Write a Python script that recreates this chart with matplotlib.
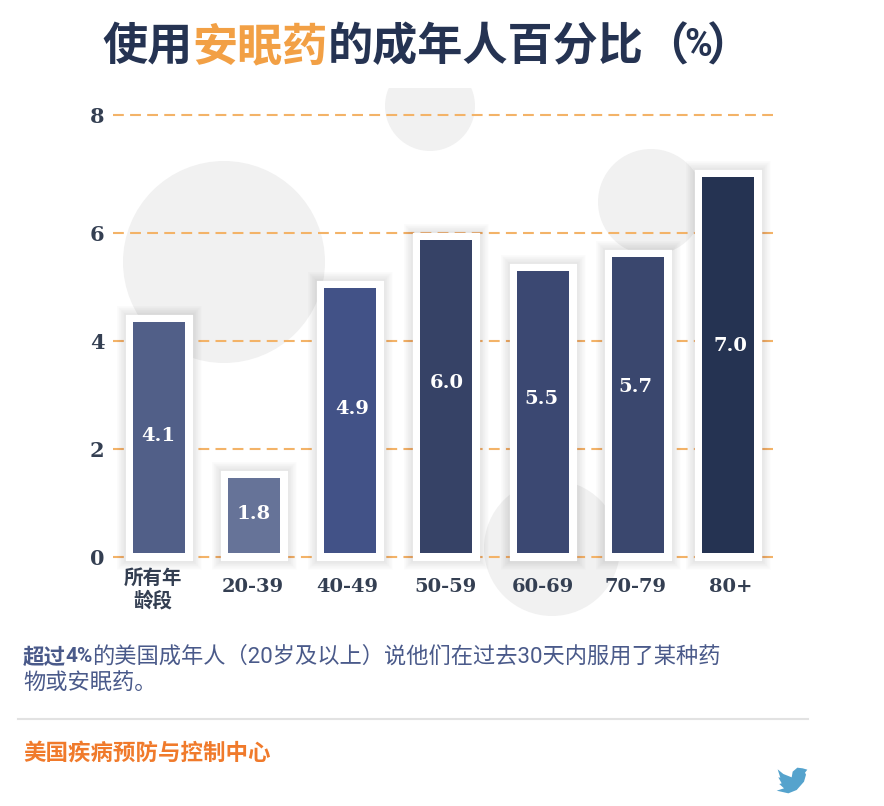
import numpy as np
import matplotlib
matplotlib.use('Agg')
import matplotlib.pyplot as plt
from matplotlib.patches import Circle, Polygon, Rectangle
from matplotlib.transforms import ScaledTranslation

CJK = 'Noto Sans CJK SC'
plt.rcParams['font.family'] = [CJK, 'DejaVu Sans']

# 数据
categories = ['所有年\n龄段', '20-39', '40-49', '50-59', '60-69', '70-79', '80+']
value_labels = ['4.1', '1.8', '4.9', '6.0', '5.5', '5.7', '7.0']
# bar tops as drawn against the printed axis (they sit a bit off the labels in the source)
bar_tops = [4.35, 1.46, 4.98, 5.87, 5.30, 5.56, 6.95]
label_heights = [2.24, 0.80, 2.74, 3.22, 2.93, 3.15, 3.91]
bar_colors = ['#515f88', '#667398', '#425287', '#364266', '#3b4872', '#3a476e', '#253352']

# the printed axis is not quite linear
tick_values = [0, 2, 4, 6, 8]
tick_heights = [0, 108, 216, 324, 442]

# horizontal placement, the source spacing is slightly uneven
bar_x = [159, 254, 350, 446, 542.5, 637.5, 728]
value_x = [158, 254, 352, 447, 541, 635, 730]
label_x = [153, 253, 347, 446, 543, 636, 731]
BAR_W = 52

DARK = '#253352'
TICK = '#343f52'
ORANGE = '#f2a045'
BLUE = '#4a5a8a'

fig = plt.figure(figsize=(8.84, 8.06), dpi=100)

# 背景层: pixel coordinates
bg = fig.add_axes([0, 0, 1, 1])
bg.set_xlim(0, 884)
bg.set_ylim(806, 0)
bg.axis('off')

for cx, cy, r in [(224, 262, 101), (430, 106, 45), (651, 202, 53), (552, 548, 68)]:
    c = Circle((cx, cy), r, color='#f1f1f1', lw=0)
    bg.add_patch(c)
    if cy == 106:
        c.set_clip_path(Rectangle((300, 88), 300, 100, transform=bg.transData))

# 标题
x = 102
renderer = fig.canvas.get_renderer()
for part, col in [('使用', DARK), ('安眠药', ORANGE), ('的成年人百分比', DARK)]:
    t = bg.text(x, 47, part, color=col, fontsize=32.5, fontweight='bold', va='center', ha='left')
    x += t.get_window_extent(renderer).width
bg.text(688, 47, '（', color=DARK, fontsize=32.5, fontweight='bold', va='center', ha='right')
bg.text(698.5, 46, '%', color=DARK, fontsize=27, fontweight='bold', va='center', ha='center',
        family=['Roboto'])
bg.text(707, 47, '）', color=DARK, fontsize=32.5, fontweight='bold', va='center', ha='left')

# 说明文字
body_font = ['Roboto', CJK]
bg.text(23, 657, '超过', color=BLUE, fontsize=15.5, fontweight='bold', va='center')
bg.text(65, 656, '4%', color=BLUE, fontsize=15, fontweight='bold', va='center', family=['Roboto'])
bg.text(92, 657, '的美国成年人（20岁及以上）说他们在过去30天内服用了某种药',
        color=BLUE, fontsize=16, va='center', family=body_font)
bg.text(23, 683, '物或安眠药。', color=BLUE, fontsize=16, va='center', family=body_font)

bg.plot([18, 808], [719, 719], color='#e2e2e2', lw=1.5)
bg.text(23, 753, '美国疾病预防与控制中心', color='#f07a2b', fontsize=16.2, fontweight='bold', va='center')

# twitter bird
bird = np.array([(293, 208), (310, 222), (335, 232), (338, 215), (352, 203), (368, 205),
                 (382, 209), (375, 218), (378, 224), (372, 245), (350, 270), (325, 280),
                 (290, 272), (312, 265), (298, 252), (305, 250), (295, 232), (301, 233)])
bird = bird / 3 + [680, 700]
bg.add_patch(Polygon(bird, closed=True, color='#55a3cd', lw=0))

# 图表
ax = fig.add_axes([113 / 884, 1 - 557 / 806, (775 - 113) / 884, (557 - 115) / 806])
ax.patch.set_alpha(0)


def forward(v):
    return np.interp(v, tick_values, tick_heights)


def inverse(h):
    return np.interp(h, tick_heights, tick_values)


ax.set_yscale('function', functions=(forward, inverse))
ax.set_ylim(0, 8)
ax.set_xlim(113, 775)

base = 0.08
heights = np.array(bar_tops) - base

# soft shadow then white frame
for lw in np.arange(24, 11, -1):
    ax.bar(bar_x, heights, BAR_W, bottom=base, facecolor='none', edgecolor='#000000', alpha=0.006,
           linewidth=lw, joinstyle='miter', clip_on=False, zorder=2)
ax.bar(bar_x, heights, BAR_W, bottom=base, color='white', edgecolor='white',
       linewidth=11, joinstyle='miter', clip_on=False, zorder=3)
ax.bar(bar_x, heights, BAR_W, bottom=base, color=bar_colors, clip_on=False, zorder=4)

for i, lab in enumerate(value_labels):
    ax.text(value_x[i], label_heights[i], lab, color='white', ha='center', va='center', fontsize=14,
            fontweight='bold', family=['DejaVu Serif'], zorder=5)

ax.set_yticks(tick_values)
ax.set_yticklabels([str(v) for v in tick_values], family=['DejaVu Serif'], fontweight='bold',
                   fontsize=15, color=TICK)
ax.set_xticks(label_x)
ax.set_xticklabels(categories, family=['DejaVu Serif', CJK], fontweight='bold', fontsize=14,
                   color=TICK, va='center', linespacing=1.2)
ax.tick_params(axis='x', length=0, pad=21.5)
ax.tick_params(axis='y', length=0, pad=6)
# 两行标签 sits a little lower
first = ax.get_xticklabels()[0]
first.set_transform(first.get_transform() + ScaledTranslation(0, -0.03, fig.dpi_scale_trans))
for s in ax.spines.values():
    s.set_visible(False)

ax.set_axisbelow(True)
for v in tick_values:
    ax.axhline(v, color='#f3b368', lw=1.5, dashes=(5.2, 3), clip_on=False, zorder=1)

fig.savefig('out.png', dpi=100)
